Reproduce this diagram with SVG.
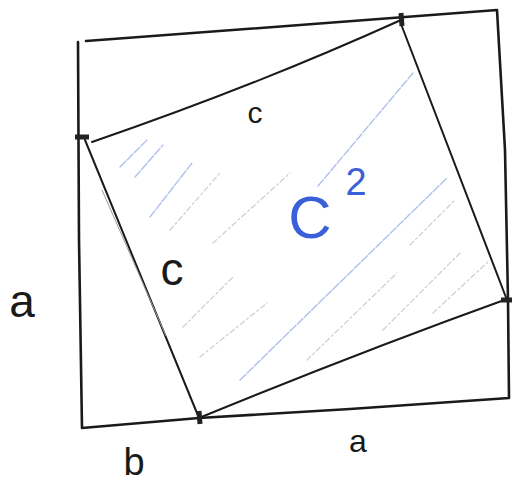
<svg xmlns="http://www.w3.org/2000/svg" width="512" height="485" viewBox="0 0 512 485">
  <style>
    .edge { fill: none; stroke: #1a1a1a; stroke-width: 2.6; stroke-linecap: round; stroke-linejoin: round; }
    .inner { fill: none; stroke: #1a1a1a; stroke-width: 2; stroke-linecap: round; }
    .tick { stroke: #222; stroke-width: 5; stroke-linecap: butt; }
    .hatch { stroke: #d0d0d0; stroke-width: 1.3; stroke-dasharray: 5 3 2 3; stroke-linecap: round; }
    .hatchb { stroke: #b0c0ea; stroke-width: 1.4; stroke-dasharray: 8 2; stroke-linecap: round; }
    .lbl { font-family: "Liberation Sans", "DejaVu Sans", sans-serif; fill: #1a1a1a; text-anchor: middle; }
    .blue { font-family: "Liberation Sans", "DejaVu Sans", sans-serif; fill: #3a5fd9; text-anchor: middle; }
  </style>
  <rect width="512" height="485" fill="#ffffff"/>

  <g id="hatching">
    <line class="hatchb" x1="120" y1="167" x2="147" y2="140"/>
    <line class="hatchb" x1="135" y1="177" x2="163" y2="145"/>
    <line class="hatchb" x1="150" y1="217" x2="192" y2="163"/>
    <line class="hatch" x1="170" y1="230" x2="220" y2="173"/>
    <line class="hatch" x1="213" y1="243" x2="290" y2="173"/>
    <line class="hatch" x1="183" y1="327" x2="233" y2="277"/>
    <line class="hatch" x1="200" y1="357" x2="267" y2="303"/>
    <line class="hatchb" x1="318" y1="186" x2="413" y2="73"/>
    <line class="hatchb" x1="240" y1="380" x2="447" y2="178"/>
    <line class="hatch" x1="307" y1="360" x2="397" y2="273"/>
    <line class="hatch" x1="383" y1="330" x2="460" y2="253"/>
    <line class="hatch" x1="433" y1="313" x2="490" y2="260"/>
    <line class="hatch" x1="410" y1="245" x2="455" y2="200"/>
  </g>

  <g id="outer-square">
    <path class="edge" d="M 86,41 L 300,25 L 497,10 L 505,150 L 508,300 L 509,398 L 350,409 L 199,418 L 82,428 L 79,240 L 78,42"/>
  </g>

  <g id="inner-square">
    <path class="inner" d="M 92,142 Q 255,86 401,20"/>
    <path class="inner" d="M 401,24 L 507,300"/>
    <path class="inner" d="M 199,418 Q 360,352 507,299"/>
    <path class="inner" d="M 85,140 L 199,418"/>
    <line x1="102" y1="190" x2="166" y2="336" stroke="#9a9a9a" stroke-width="1"/>
  </g>

  <g id="ticks">
    <line class="tick" x1="401" y1="13" x2="402" y2="26"/>
    <line class="tick" x1="75" y1="137" x2="89" y2="137"/>
    <line class="tick" x1="199" y1="411" x2="200" y2="424"/>
    <line class="tick" x1="501" y1="300" x2="512" y2="300"/>
  </g>

  <g id="labels">
    <text class="lbl" x="255" y="123" font-size="30">c</text>
    <text class="lbl" x="172" y="285" font-size="46">c</text>
    <text class="lbl" x="22" y="317" font-size="46">a</text>
    <text class="lbl" x="134" y="475" font-size="38">b</text>
    <text class="lbl" x="358" y="452" font-size="32">a</text>
    <text class="blue" x="310" y="238" font-size="60">C</text>
    <text class="blue" x="356" y="195" font-size="38">2</text>
  </g>
</svg>
